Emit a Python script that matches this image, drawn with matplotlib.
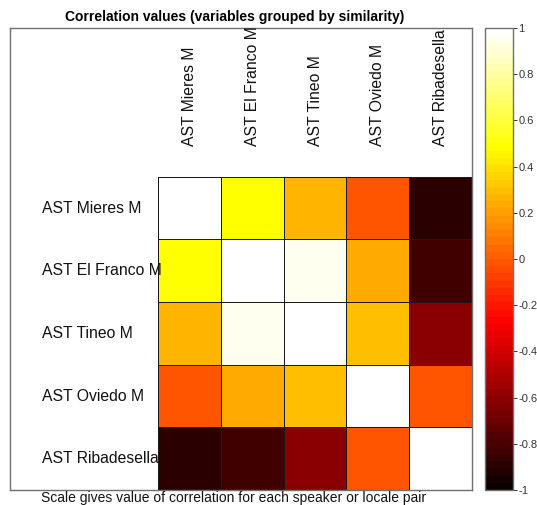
import numpy as np
import matplotlib
matplotlib.use("Agg")
import matplotlib.pyplot as plt
from matplotlib.colors import Normalize

labels = ["AST Mieres M", "AST El Franco M", "AST Tineo M", "AST Oviedo M", "AST Ribadesella"]
corr = np.array([
    [1.00, 0.47, 0.27, -0.03, -0.89],
    [0.47, 1.00, 0.94, 0.23, -0.82],
    [0.27, 0.94, 1.00, 0.31, -0.62],
    [-0.03, 0.23, 0.31, 1.00, -0.03],
    [-0.89, -0.82, -0.62, -0.03, 1.00],
])
cbar_ticks = [-1, -0.8, -0.6, -0.4, -0.2, 0, 0.2, 0.4, 0.6, 0.8, 1]
title = "Correlation values (variables grouped by similarity)"
footer = "Scale gives value of correlation for each speaker or locale pair"

plt.rcParams['font.family'] = ['Liberation Sans', 'DejaVu Sans']

W, H = 537, 505
fig = plt.figure(figsize=(W / 100, H / 100), dpi=100)

def rect(x0, y0, x1, y1):
    return [x0 / W, 1 - y1 / H, (x1 - x0) / W, (y1 - y0) / H]

ax = fig.add_axes(rect(10, 28, 472, 490))
cmap = plt.get_cmap('hot', 64)
norm = Normalize(-1, 1)
n = len(labels)
ax.pcolormesh(np.arange(n + 1) - 0.5, np.arange(n + 1) - 0.5, corr,
              cmap=cmap, norm=norm, edgecolors='#1a1a1a', linewidth=0.5)
cell = (472 - 158) / 5.0
ax.set_xlim(-0.5 - (158 - 10) / cell, n - 0.5)
ax.set_ylim(n - 0.5, -0.5 - (177 - 28) / cell)
ax.set_xticks([])
ax.set_yticks([])
for s in ax.spines.values():
    s.set_color('#707070')
    s.set_linewidth(1.0)

x_left = -0.5 - (158 - 42) / cell
for i, lab in enumerate(labels):
    ax.text(x_left, i, lab, ha='left', va='center', fontsize=11.3, color='#111111', clip_on=False)
    ax.text(i, -0.5 - (177 - 146) / cell, lab, ha='center', va='bottom', rotation=90,
            fontsize=11.3, color='#111111', clip_on=False)

fig.text(235 / W, 1 - 17 / H, title, ha='center', va='center', fontsize=10, fontweight='bold')
fig.text(41 / W, 1 - 502 / H, footer, ha='left', va='baseline', fontsize=10, color='#111111')

cax = fig.add_axes(rect(485, 28, 513, 490))
sm = matplotlib.cm.ScalarMappable(norm=norm, cmap=cmap)
cb = fig.colorbar(sm, cax=cax, ticks=cbar_ticks)
cb.ax.set_yticklabels([f"{t:g}" for t in cbar_ticks])
cb.ax.tick_params(direction='out', length=3, width=0.7, labelsize=8, colors='#333333', pad=1)
cb.outline.set_edgecolor('#707070')
cb.outline.set_linewidth(1.0)

fig.savefig("out.png", dpi=100)
